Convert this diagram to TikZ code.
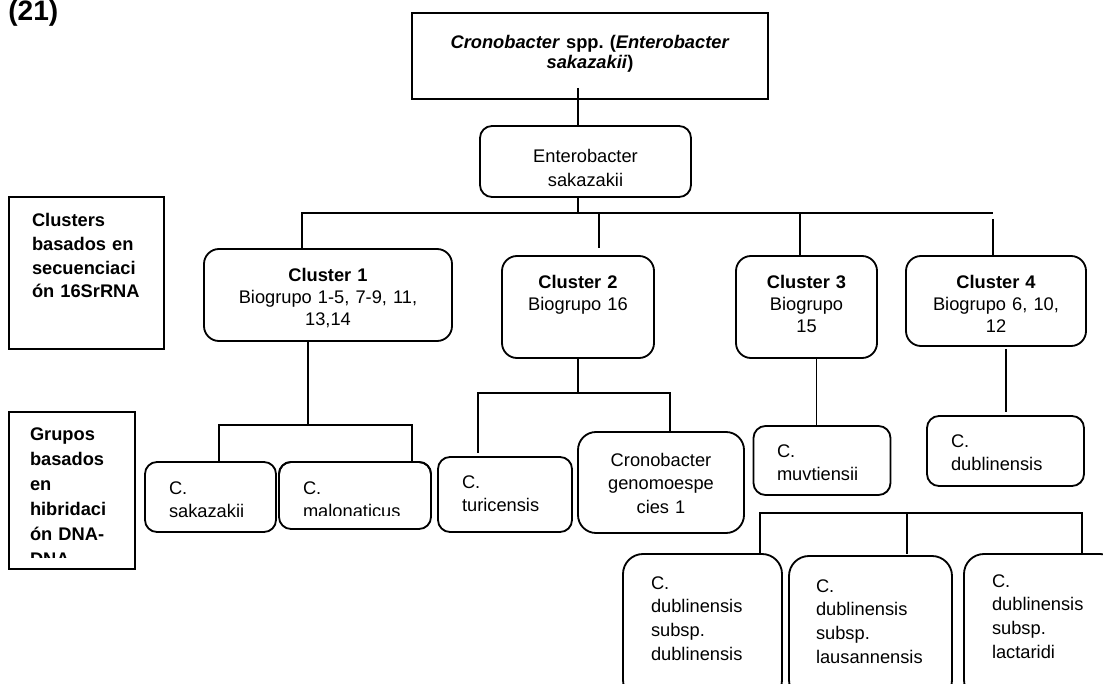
\documentclass[tikz,border=0pt]{standalone}
\usepackage{fontspec}
\setmainfont{Liberation Sans}
\usetikzlibrary{calc}
\frenchspacing
\tikzset{
  boxbase/.style = {draw=black, line width=1.3pt, anchor=north west, inner ysep=0pt,
                    outer sep=0pt, font=\fontsize{13}{17}\selectfont,
                    execute at begin node={\hyphenpenalty=10000\exhyphenpenalty=10000}},
  headbox/.style = {boxbase, rectangle, align=center,
                    font=\fontsize{13}{14.2}\selectfont\bfseries},
  sidebox/.style = {boxbase, rectangle, align=left,
                    font=\fontsize{13}{16.8}\selectfont\bfseries},
  clbox/.style   = {boxbase, rounded corners=0.375cm, align=center,
                    font=\fontsize{13}{15.3}\selectfont},
  rbox/.style    = {boxbase, rounded corners=0.3cm, align=center},
  spbox/.style   = {boxbase, rounded corners=0.3cm, align=left},
  link/.style    = {draw=black, line width=1.3pt},
}

\begin{document}
\begin{tikzpicture}[x=1cm, y=-1cm]
  \useasboundingbox (0,0) rectangle (27.575,17.1);
  \clip (0,0) rectangle (27.575,17.1);

  \node[font=\fontsize{20}{24}\selectfont\bfseries, anchor=base west, inner sep=0pt]
       (tag) at (0.2,0.525) {(21)};

  % top of the tree
  \node[headbox, text width=8.4cm, inner xsep=0.25cm, text height=0.9cm, text depth=1.25cm]
       (root) at (10.3,0.325) {\textit{Cronobacter} spp. (\textit{Enterobacter}\\\textit{sakazakii})};
  \node[rbox, text width=4.875cm, inner xsep=0.2cm, text height=0.925cm, text depth=0.85cm]
       (es) at (12,3.15) {Enterobacter\\sakazakii};

  % side labels
  \node[sidebox, text width=2.725cm, inner xsep=0.575cm, text height=0.75cm, text depth=3.05cm]
       (lab1) at (0.225,4.925) {Clusters\\basados en\\secuenciaci\\ón 16SrRNA};
  \begin{scope}
    \clip (0,0) rectangle (27.575,13.925);
    \node[sidebox, font=\fontsize{13}{17.8}\selectfont\bfseries, text width=2.1cm, inner xsep=0.525cm,
          text height=0.7cm, text depth=3.225cm]
         (lab2) at (0.225,10.3) {Grupos\\basados\\en\\hibridaci\\ón DNA-\\DNA};
  \end{scope}
  \draw[link] (lab2.north west) rectangle (lab2.south east);

  % clusters
  \node[clbox, text width=5.8cm, inner xsep=0.2cm, text height=0.825cm, text depth=1.475cm]
       (c1) at (5.1,6.225) {\textbf{Cluster 1}\\Biogrupo 1-5, 7-9, 11,\\13,14};
  \node[clbox, text width=3.4cm, inner xsep=0.2cm, text height=0.825cm, text depth=1.725cm]
       (c2) at (12.55,6.4) {\textbf{Cluster 2}\\Biogrupo 16};
  \node[clbox, text width=3.125cm, inner xsep=0.2cm, text height=0.825cm, text depth=1.725cm]
       (c3) at (18.4,6.4) {\textbf{Cluster 3}\\Biogrupo\\15};
  \node[clbox, text width=4.1cm, inner xsep=0.2cm, text height=0.825cm, text depth=1.425cm]
       (c4) at (22.65,6.4) {\textbf{Cluster 4}\\Biogrupo 6, 10,\\12};

  % species
  \node[spbox, text width=2.075cm, inner xsep=0.6cm, text height=0.8cm, text depth=0.95cm]
       (sak) at (3.625,11.55) {C.\\sakazakii};
  \begin{scope}
    \clip (0,0) rectangle (27.575,12.875);
    \node[spbox, text width=2.6cm, inner xsep=0.6cm, text height=0.8cm, text depth=0.875cm]
         (mal) at (6.975,11.55) {C.\\malonaticus};
  \end{scope}
  \draw[link, rounded corners=0.3cm] (mal.north west) rectangle (mal.south east);
  \node[spbox, text width=2.15cm, inner xsep=0.6cm, text height=0.775cm, text depth=1.1cm]
       (tur) at (10.95,11.425) {C.\\turicensis};
  \node[rbox, rounded corners=0.45cm, text width=3.65cm, inner xsep=0.25cm, text height=0.85cm, text depth=1.675cm]
       (cge) at (14.45,10.8) {Cronobacter\\genomoespe\\cies 1};
  \node[spbox, text width=2.25cm, inner xsep=0.5875cm, text height=0.775cm, text depth=0.95cm]
       (muv) at (18.8375,10.65) {C.\\muvtiensii};
  \node[spbox, text width=2.725cm, inner xsep=0.6cm, text height=0.775cm, text depth=0.975cm]
       (dub) at (23.175,10.4) {C.\\dublinensis};

  % subspecies
  \node[spbox, rounded corners=0.5cm, text width=2.575cm, inner xsep=0.7cm, text height=0.875cm, text depth=2.775cm]
       (dsd) at (15.575,13.85) {C.\\dublinensis\\subsp.\\dublinensis};
  \node[spbox, rounded corners=0.5cm, text width=2.725cm, inner xsep=0.675cm, text height=0.9cm, text depth=2.7cm]
       (dsl) at (19.725,13.9) {C.\\dublinensis\\subsp.\\lausannensis};
  \node[spbox, rounded corners=0.5cm, text width=2.5cm, inner xsep=0.7cm, text height=0.825cm, text depth=2.825cm]
       (dsc) at (24.1,13.85) {C.\\dublinensis\\subsp.\\lactaridi};

  % connectors, level 1
  \coordinate (r0) at (14.45,2.2);
  \draw[link] (r0) -- (r0 |- es.north);
  \coordinate (k0) at (14.45,5.325);
  \coordinate (k1) at (7.55,5.325);
  \coordinate (k2) at (14.975,5.325);
  \coordinate (k3) at (20,5.325);
  \coordinate (k4) at (24.825,5.325);
  \draw[link] (es.south -| k0) -- (k0);
  \draw[link] (k1 |- c1.north) -- (k1) -- (k4);
  \draw[link, shorten >=0.2cm] (k2) -- (k2 |- c2.north);
  \draw[link] (k3) -- (k3 |- c3.north);
  \draw[link, shorten <=0.15cm] (k4) -- (k4 |- c4.north);

  % connectors, level 2
  \coordinate (m1) at (7.7,10.625);
  \coordinate (m1l) at (5.475,10.625);
  \coordinate (m1r) at (10.3,10.625);
  \draw[link] (c1.south -| m1) -- (m1);
  \draw[link] (m1l |- sak.north) -- (m1l) -- (m1r) -- (m1r |- mal.north);
  \coordinate (m2) at (14.45,9.825);
  \coordinate (m2l) at (11.95,9.825);
  \coordinate (m2r) at (16.75,9.825);
  \draw[link] (c2.south -| m2) -- (m2);
  \draw[link, shorten <=0.1cm] (m2l |- tur.north) -- (m2l) -- (m2r) -- (m2r |- cge.north);
  \coordinate (m3) at ([xshift=0.25cm]c3.south);
  \draw[link] (m3) -- (m3 |- muv.north);
  \coordinate (m4) at ([xshift=0.25cm]c4.south);
  \draw[link, shorten <=0.075cm, shorten >=0.1cm] (m4) -- (m4 |- dub.north);

  % connectors, level 3
  \coordinate (n1) at (19,12.825);
  \coordinate (n2) at (22.675,12.825);
  \coordinate (n3) at (27.05,12.825);
  \draw[link] (n1 |- dsd.north) -- (n1) -- (n3) -- (n3 |- dsc.north);
  \draw[link, shorten >=0.05cm] (n2) -- (n2 |- dsl.north);
\end{tikzpicture}
\end{document}
